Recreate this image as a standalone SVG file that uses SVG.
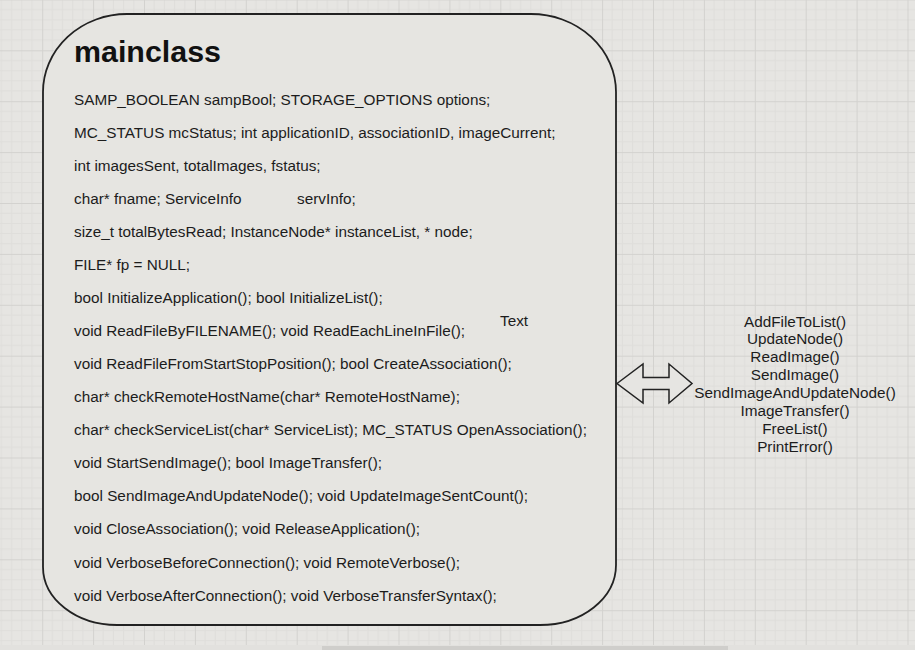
<svg xmlns="http://www.w3.org/2000/svg" width="915" height="650" viewBox="0 0 915 650">
<style>
.body{font-family:"Liberation Sans",Arial,sans-serif;font-size:15.3px;fill:#1c1c1c}
.title{font-family:"Liberation Sans",Arial,sans-serif;font-size:30.4px;font-weight:bold;fill:#111}
.list{font-family:"Liberation Sans",Arial,sans-serif;font-size:15.3px;fill:#1c1c1c;text-anchor:middle}
</style>
<defs>
<pattern id="grid" patternUnits="userSpaceOnUse" x="42.2" y="-0.6" width="50.9" height="50.9">
<rect width="50.9" height="50.9" fill="#e6e5e2"/>
<path d="M10.18,0V50.9M20.36,0V50.9M30.54,0V50.9M40.72,0V50.9M0,10.18H50.9M0,20.36H50.9M0,30.54H50.9M0,40.72H50.9" stroke="#dfdedb" stroke-width="1" fill="none"/>
<path d="M0.5,0V50.9M0,0.5H50.9" stroke="#d3d2cf" stroke-width="1" fill="none"/>
</pattern>
</defs>
<rect width="915" height="650" fill="url(#grid)"/>
<rect x="0" y="645" width="915" height="5" fill="#e2e1de"/>
<rect x="322" y="646" width="406" height="4" fill="#cfcecb"/>
<g id="connectors">
<polygon points="617,383.5 643,364 643,377.5 669,377.5 669,364 692,383.5 669,403 669,389.5 643,389.5 643,403" fill="#e6e5e2" stroke="#222" stroke-width="1.5" stroke-linejoin="miter"/>
</g>
<g id="mainclass">
<path d="M127,14 H531 A85,78 0 0 1 616,92 V565 A76,60 0 0 1 540,625 H117 A74,58 0 0 1 43,567 V92 A84,78 0 0 1 127,14 Z" fill="#e6e5e1" stroke="#222" stroke-width="1.8"/>
<text class="title" x="74" y="62">mainclass</text>
<text class="body" x="74" y="104.5">SAMP_BOOLEAN sampBool; STORAGE_OPTIONS options;</text>
<text class="body" x="74" y="137.6">MC_STATUS mcStatus; int applicationID, associationID, imageCurrent;</text>
<text class="body" x="74" y="170.6">int imagesSent, totalImages, fstatus;</text>
<text class="body" x="74" y="203.7">char* fname; ServiceInfo<tspan x="297">servInfo;</tspan></text>
<text class="body" x="74" y="236.8">size_t totalBytesRead; InstanceNode* instanceList, * node;</text>
<text class="body" x="74" y="269.9">FILE* fp = NULL;</text>
<text class="body" x="74" y="302.9">bool InitializeApplication(); bool InitializeList();</text>
<text class="body" x="74" y="336">void ReadFileByFILENAME(); void ReadEachLineInFile();</text>
<text class="body" x="74" y="369.1">void ReadFileFromStartStopPosition(); bool CreateAssociation();</text>
<text class="body" x="74" y="402.1">char* checkRemoteHostName(char* RemoteHostName);</text>
<text class="body" x="74" y="435.2">char* checkServiceList(char* ServiceList); MC_STATUS OpenAssociation();</text>
<text class="body" x="74" y="468.3">void StartSendImage(); bool ImageTransfer();</text>
<text class="body" x="74" y="501.3">bool SendImageAndUpdateNode(); void UpdateImageSentCount();</text>
<text class="body" x="74" y="534.4">void CloseAssociation(); void ReleaseApplication();</text>
<text class="body" x="74" y="567.5">void VerboseBeforeConnection(); void RemoteVerbose();</text>
<text class="body" x="74" y="600.5">void VerboseAfterConnection(); void VerboseTransferSyntax();</text>
</g>
<g id="text-label">
<text class="body" x="500" y="326">Text</text>
</g>
<g id="function-list">
<text class="list" x="795" y="326.5">AddFileToList()</text>
<text class="list" x="795" y="344.4">UpdateNode()</text>
<text class="list" x="795" y="362.2">ReadImage()</text>
<text class="list" x="795" y="380.1">SendImage()</text>
<text class="list" x="795" y="397.9">SendImageAndUpdateNode()</text>
<text class="list" x="795" y="415.8">ImageTransfer()</text>
<text class="list" x="795" y="433.7">FreeList()</text>
<text class="list" x="795" y="451.5">PrintError()</text>
</g>
</svg>
